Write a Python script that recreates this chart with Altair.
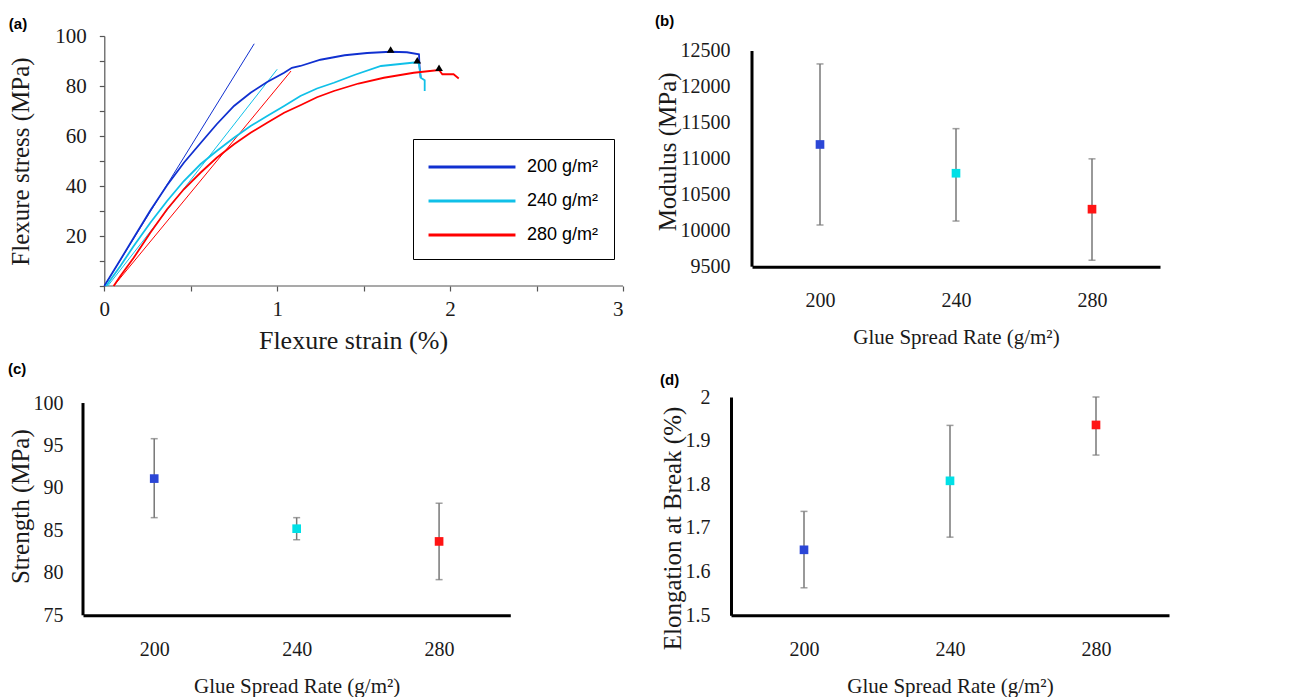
import altair as alt
import pandas as pd

SERIF = "Liberation Serif"
SANS = "Liberation Sans"
TXT = "#1a1a1a"

# ---------------- Panel (a): stress-strain curves ----------------
series_names = ["200 g/m²", "240 g/m²", "280 g/m²"]
series_colors = ["#1030D0", "#10C0E8", "#FF0000"]

strain_200 = [0.0, 0.093, 0.17, 0.266, 0.363, 0.46, 0.556, 0.65, 0.75, 0.846, 0.942, 1.04,
              1.085, 1.134, 1.25, 1.39, 1.52, 1.656, 1.75, 1.82, 1.823, 1.83]
stress_200 = [0.0, 10.5, 19.3, 30.2, 40.3, 49.3, 57.1, 64.7, 72.0, 77.3, 81.6, 85.3,
              87.3, 88.0, 90.5, 92.3, 93.2, 93.7, 93.5, 92.7, 88.0, 83.3]

strain_240 = [0.01, 0.093, 0.17, 0.266, 0.363, 0.46, 0.556, 0.65, 0.75, 0.846, 0.942, 1.04,
              1.134, 1.23, 1.328, 1.45, 1.6, 1.78, 1.81, 1.82, 1.83, 1.853, 1.853]
stress_240 = [0.0, 8.0, 16.0, 25.3, 34.0, 42.0, 48.7, 54.0, 59.3, 64.0, 68.0, 72.0,
              76.0, 79.0, 81.3, 84.5, 88.0, 89.3, 89.5, 88.7, 83.3, 82.3, 78.0]

strain_280 = [0.054, 0.093, 0.17, 0.266, 0.363, 0.46, 0.556, 0.65, 0.75, 0.846, 0.942, 1.04,
              1.134, 1.23, 1.328, 1.47, 1.617, 1.79, 1.936, 1.955, 2.02, 2.05]
stress_280 = [0.0, 4.0, 11.3, 21.3, 30.7, 38.7, 45.3, 51.3, 56.7, 61.3, 65.3, 69.3,
              72.3, 75.5, 78.0, 81.0, 83.3, 85.3, 86.4, 84.7, 84.7, 83.0]

tangent_strain_200 = [0.0, 0.867]
tangent_stress_200 = [0.0, 96.9]
tangent_strain_240 = [0.02, 1.0]
tangent_stress_240 = [0.0, 86.7]
tangent_strain_280 = [0.054, 1.08]
tangent_stress_280 = [0.0, 86.0]

break_strain = [1.656, 1.81, 1.936]
break_stress = [94.6, 90.3, 87.3]

strain_ticks = [0, 0.5, 1, 1.5, 2, 2.5, 3]
stress_ticks = [0, 10, 20, 30, 40, 50, 60, 70, 80, 90, 100]

# ---------------- Panels (b)-(d): mean +/- deviation ----------------
rates = [200, 240, 280]
point_colors = ["#2B46D6", "#00E0E6", "#FF1414"]

modulus = [11200, 10800, 10300]
modulus_lo = [10080, 10135, 9590]
modulus_hi = [12320, 11420, 11000]

strength = [91.1, 85.2, 83.7]
strength_lo = [86.5, 83.9, 79.2]
strength_hi = [95.8, 86.5, 88.2]

elongation = [1.65, 1.808, 1.936]
elongation_lo = [1.563, 1.679, 1.867]
elongation_hi = [1.738, 1.935, 2.0]

modulus_ticks = [9500, 10000, 10500, 11000, 11500, 12000, 12500]
strength_ticks = [75, 80, 85, 90, 95, 100]
elongation_ticks = [1.5, 1.6, 1.7, 1.8, 1.9, 2.0]


def panel_title(text, offset):
    return alt.TitleParams(text=text, anchor="start", frame="bounds", font=SANS,
                           fontSize=15, fontWeight="bold", color="black", offset=offset)


# ---- build panel (a)
curve_rows = []
for name, xs, ys in zip(series_names, [strain_200, strain_240, strain_280],
                        [stress_200, stress_240, stress_280]):
    for i, (sx, sy) in enumerate(zip(xs, ys)):
        curve_rows.append({"series": name, "strain": sx, "stress": sy, "order": i})
curves = pd.DataFrame(curve_rows)

tan_rows = []
for name, xs, ys in zip(series_names,
                        [tangent_strain_200, tangent_strain_240, tangent_strain_280],
                        [tangent_stress_200, tangent_stress_240, tangent_stress_280]):
    for i, (sx, sy) in enumerate(zip(xs, ys)):
        tan_rows.append({"series": name, "strain": sx, "stress": sy, "order": i})
tangents = pd.DataFrame(tan_rows)

breaks = pd.DataFrame({"strain": break_strain, "stress": break_stress})
x_baseline = pd.DataFrame({"strain": [strain_ticks[0]], "strain2": [strain_ticks[-1]],
                           "stress": [stress_ticks[0]]})

axis_a = dict(domainColor="#555", domainWidth=1.2, tickColor="#555", tickWidth=1.2,
              tickSize=5, labelFont=SERIF, labelFontSize=21, labelColor=TXT,
              titleFont=SERIF, titleFontWeight="normal", titleColor=TXT, grid=False)

xa = alt.X("strain:Q", scale=alt.Scale(domain=[-0.1233, 3], nice=False, zero=False),
           axis=alt.Axis(values=strain_ticks, title="Flexure strain (%)", domain=False,
                         labelExpr="datum.value % 1 === 0 ? format(datum.value, 'd') : ''",
                         labelPadding=7, titlePadding=8, titleFontSize=26, **axis_a))
ya = alt.Y("stress:Q", scale=alt.Scale(domain=[0, 100], nice=False),
           axis=alt.Axis(values=stress_ticks, title="Flexure stress (MPa)", offset=-21.3,
                         labelExpr="datum.value > 0 && datum.value % 20 === 0 ? format(datum.value, 'd') : ''",
                         labelPadding=13, titlePadding=21, titleFontSize=25, **axis_a))

legend_a = alt.Legend(orient="none", legendX=330, legendY=103, title=None,
                      symbolType="M-3.78,0L3.78,0", symbolSize=529, symbolStrokeWidth=3,
                      symbolOffset=31, labelOffset=42, labelFont=SANS, labelFontSize=18,
                      labelColor="black", labelLimit=300, padding=15, rowPadding=12,
                      strokeColor="black", fillColor="white")
color_a = alt.Color("series:N", scale=alt.Scale(domain=series_names, range=series_colors),
                    legend=legend_a)

baseline_a = alt.Chart(x_baseline).mark_rule(color="#555", strokeWidth=1.2).encode(
    x=xa, x2="strain2:Q", y=ya)
tan_lines = alt.Chart(tangents).mark_line(strokeWidth=1.0).encode(
    x=xa, y=ya, color=color_a, order="order:Q")
main_lines = alt.Chart(curves).mark_line(strokeWidth=1.8).encode(
    x=xa, y=ya, color=color_a, order="order:Q")
tri = alt.Chart(breaks).mark_point(shape="triangle-up", filled=True, size=60,
                                   color="black", opacity=1).encode(x=xa, y=ya)

panel_a = alt.layer(baseline_a, tan_lines, main_lines, tri).properties(
    width=540, height=250, title=panel_title("(a)", -7))


# ---- build dot panels
def dot_panel(values, lo, hi, ytitle, ydomain, ytop, yticks, yformat, width, height,
              label, toffset, ylabelpad, own_domain_line, title_y=None):
    df = pd.DataFrame({"rate": rates, "value": values, "lo": lo, "hi": hi,
                       "colr": point_colors})
    common = dict(domainColor="black", domainWidth=3, ticks=False, grid=False,
                  labelFont=SERIF, labelFontSize=20, labelColor=TXT,
                  titleFont=SERIF, titleFontWeight="normal", titleColor=TXT)
    x = alt.X("rate:Q", scale=alt.Scale(domain=[180, 300], nice=False, zero=False),
              axis=alt.Axis(values=rates, format="d", title="Glue Spread Rate (g/m²)",
                            labelPadding=24, titlePadding=16, titleFontSize=21, **common))
    yscale = alt.Scale(domain=[ydomain[0], ytop], nice=False, zero=False)
    extra = {} if title_y is None else {"titleY": title_y}
    yaxis = alt.Axis(values=yticks, format=yformat, title=ytitle, labelPadding=ylabelpad,
                     titlePadding=0, titleFontSize=25, domain=not own_domain_line,
                     **extra, **common)
    base = alt.Chart(df)
    layers = []
    if own_domain_line:
        ydf = pd.DataFrame({"rate": [180], "lo": [ydomain[0]], "hi": [ydomain[1]]})
        layers.append(alt.Chart(ydf).mark_rule(color="black", strokeWidth=3).encode(
            x=x, y=alt.Y("lo:Q", scale=yscale, axis=yaxis), y2="hi:Q"))
    bars = base.mark_rule(color="#777777", strokeWidth=1.5).encode(
        x=x, y=alt.Y("lo:Q", scale=yscale, axis=yaxis), y2="hi:Q")
    cap_lo = base.mark_tick(orient="horizontal", color="#777777", size=7, thickness=1.5).encode(
        x=x, y=alt.Y("lo:Q", scale=yscale, axis=yaxis))
    cap_hi = base.mark_tick(orient="horizontal", color="#777777", size=7, thickness=1.5).encode(
        x=x, y=alt.Y("hi:Q", scale=yscale, axis=yaxis))
    pts = base.mark_point(shape="square", filled=True, size=75, opacity=1).encode(
        x=x, y=alt.Y("value:Q", scale=yscale, axis=yaxis),
        color=alt.Color("colr:N", scale=None))
    layers += [bars, cap_lo, cap_hi, pts]
    return alt.layer(*layers).properties(
        width=width, height=height, title=panel_title(label, toffset))


panel_b = dot_panel(modulus, modulus_lo, modulus_hi, "Modulus (MPa)", [9500, 12500], 12708.6,
                    modulus_ticks, "d", 408, 230.7, "(b)", 7, 22, True)
panel_c = dot_panel(strength, strength_lo, strength_hi, "Strength (MPa)", [75, 100], 100.71,
                    strength_ticks, "d", 427.3, 218.3, "(c)", 16, 20, True)
panel_d = dot_panel(elongation, elongation_lo, elongation_hi, "Elongation at Break (%)",
                    [1.5, 2.0], 2.0, elongation_ticks, "~g", 438, 218.3, "(d)", -1, 21, False,
                    title_y=131)

row1 = alt.hconcat(panel_a, panel_b, spacing=31)
row2 = alt.hconcat(panel_c, panel_d, spacing=148)
chart = alt.vconcat(row1, row2, spacing=9).properties(
    padding={"left": 0, "top": 6, "right": 5, "bottom": 0}
).configure_view(strokeWidth=0)

chart.save("out.html", embed_options={"renderer": "svg", "actions": False})
